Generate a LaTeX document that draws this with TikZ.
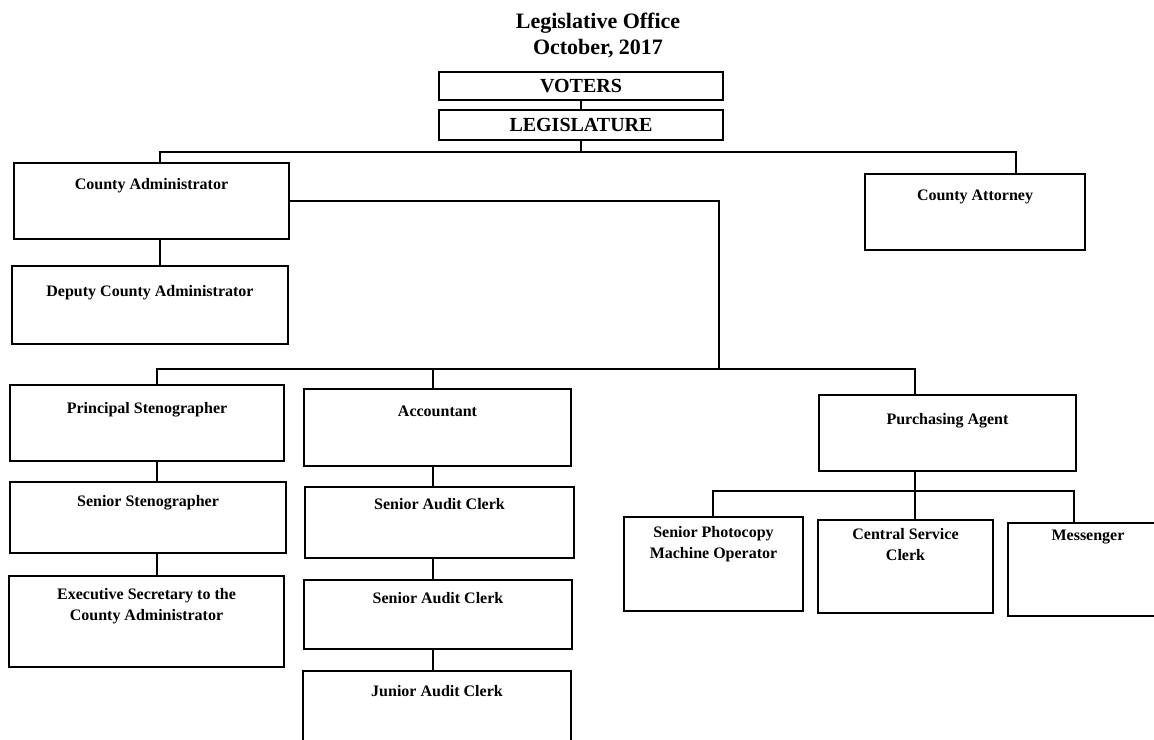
\documentclass[tikz,border=0pt]{standalone}
\usepackage{fontspec}
\setmainfont{Liberation Serif}
\tikzset{
  unit/.style={draw, line width=1pt, anchor=north west, inner sep=0pt},
  tag/.style={font=\fontsize{8}{10.5}\selectfont\bfseries, align=center, anchor=north, inner sep=0pt},
  link/.style={line width=0.75pt}
}
\begin{document}
\begin{tikzpicture}[x=0.5pt, y=-0.5pt]
  \useasboundingbox (0,0) rectangle (1154,739);
  \node[font=\fontsize{11}{13}\selectfont\bfseries, align=center] (title) at (598,35) {Legislative Office\\October, 2017};
  % top of the chart
  \node[unit, minimum width=142pt, minimum height=14pt, font=\fontsize{10}{12}\selectfont\bfseries] (voters) at (438,71) {VOTERS};
  \node[unit, minimum width=142pt, minimum height=15pt, font=\fontsize{10}{12}\selectfont\bfseries] (legis) at (438,109) {LEGISLATURE};
  \node[unit, minimum width=137.5pt, minimum height=38pt, label={[tag, yshift=-7.75pt]north:County Administrator}] (admin) at (13,162) {};
  \node[unit, minimum width=110pt, minimum height=38pt, label={[tag, yshift=-8.25pt]north:County Attorney}] (attorney) at (864,173) {};
  \node[unit, minimum width=138pt, minimum height=39pt, label={[tag, yshift=-9.75pt]north:Deputy County Administrator}] (deputy) at (11,265) {};
  % second level
  \node[unit, minimum width=137pt, minimum height=38pt, label={[tag, yshift=-8.75pt]north:Principal Stenographer}] (principal) at (9,384) {};
  \node[unit, minimum width=133.5pt, minimum height=38.5pt, label={[tag, yshift=-8.75pt]north:Accountant}] (accountant) at (303,388) {};
  \node[unit, minimum width=128.5pt, minimum height=38pt, label={[tag, yshift=-9.25pt]north:Purchasing Agent}] (purchasing) at (818,394) {};
  \node[unit, minimum width=138pt, minimum height=35.5pt, label={[tag, yshift=-6.75pt]north:Senior Stenographer}] (sensteno) at (9,481) {};
  \node[unit, minimum width=137.5pt, minimum height=45.5pt, label={[tag, yshift=-6.25pt]north:Executive Secretary to the\\County Administrator}] (execsec) at (8,575) {};
  \node[unit, minimum width=134.5pt, minimum height=35.5pt, label={[tag, yshift=-5.75pt]north:Senior Audit Clerk}] (audita) at (304,486) {};
  \node[unit, minimum width=134pt, minimum height=34.5pt, label={[tag, yshift=-6.25pt]north:Senior Audit Clerk}] (auditb) at (303,579) {};
  \node[unit, minimum width=134pt, minimum height=45pt, label={[tag, yshift=-7.25pt]north:Junior Audit Clerk}] (junior) at (302,670) {};
  \node[unit, minimum width=89.5pt, minimum height=47pt, label={[tag, yshift=-4.75pt]north:Senior Photocopy\\Machine Operator}] (photocopy) at (623,516) {};
  \node[unit, minimum width=87.5pt, minimum height=46.5pt, label={[tag, yshift=-4.25pt]north:Central Service\\Clerk}] (central) at (817,519) {};
  \node[unit, minimum width=80pt, minimum height=46.5pt, label={[tag, yshift=-3.75pt]north:Messenger}] (messenger) at (1007,522) {};
  % connectors
  \coordinate (busa) at (160,152);
  \coordinate (busb) at (1016,152);
  \coordinate (busc) at (719,369);
  \coordinate (stenocol) at (157,369);
  \coordinate (auditcol) at (433,369);
  \coordinate (purchcol) at (915,369);
  \coordinate (busd) at (713,491);
  \coordinate (buse) at (1074,491);
  \draw[link] (voters) -- (legis);
  \draw[link] (legis.south) -- (legis.south |- busa);
  \draw[link] (busa |- admin.north) -- (busa) -- (busb) -- (busb |- attorney.north);
  \draw[link] (busa |- admin.south) -- (busa |- deputy.north);
  \draw[link] (admin.east) -| (busc);
  \draw[link] (stenocol |- principal.north) -- (stenocol) -- (purchcol) -- (purchcol |- purchasing.north);
  \draw[link] (auditcol) -- (auditcol |- accountant.north);
  \draw[link] (stenocol |- principal.south) -- (stenocol |- sensteno.north);
  \draw[link] (stenocol |- sensteno.south) -- (stenocol |- execsec.north);
  \draw[link] (auditcol |- accountant.south) -- (auditcol |- audita.north);
  \draw[link] (auditcol |- audita.south) -- (auditcol |- auditb.north);
  \draw[link] (auditcol |- auditb.south) -- (auditcol |- junior.north);
  \draw[link] (purchcol |- purchasing.south) -- (purchcol |- busd);
  \draw[link] (busd |- photocopy.north) -- (busd) -- (buse) -- (buse |- messenger.north);
  \draw[link] (purchcol |- busd) -- (purchcol |- central.north);
\end{tikzpicture}
\end{document}
